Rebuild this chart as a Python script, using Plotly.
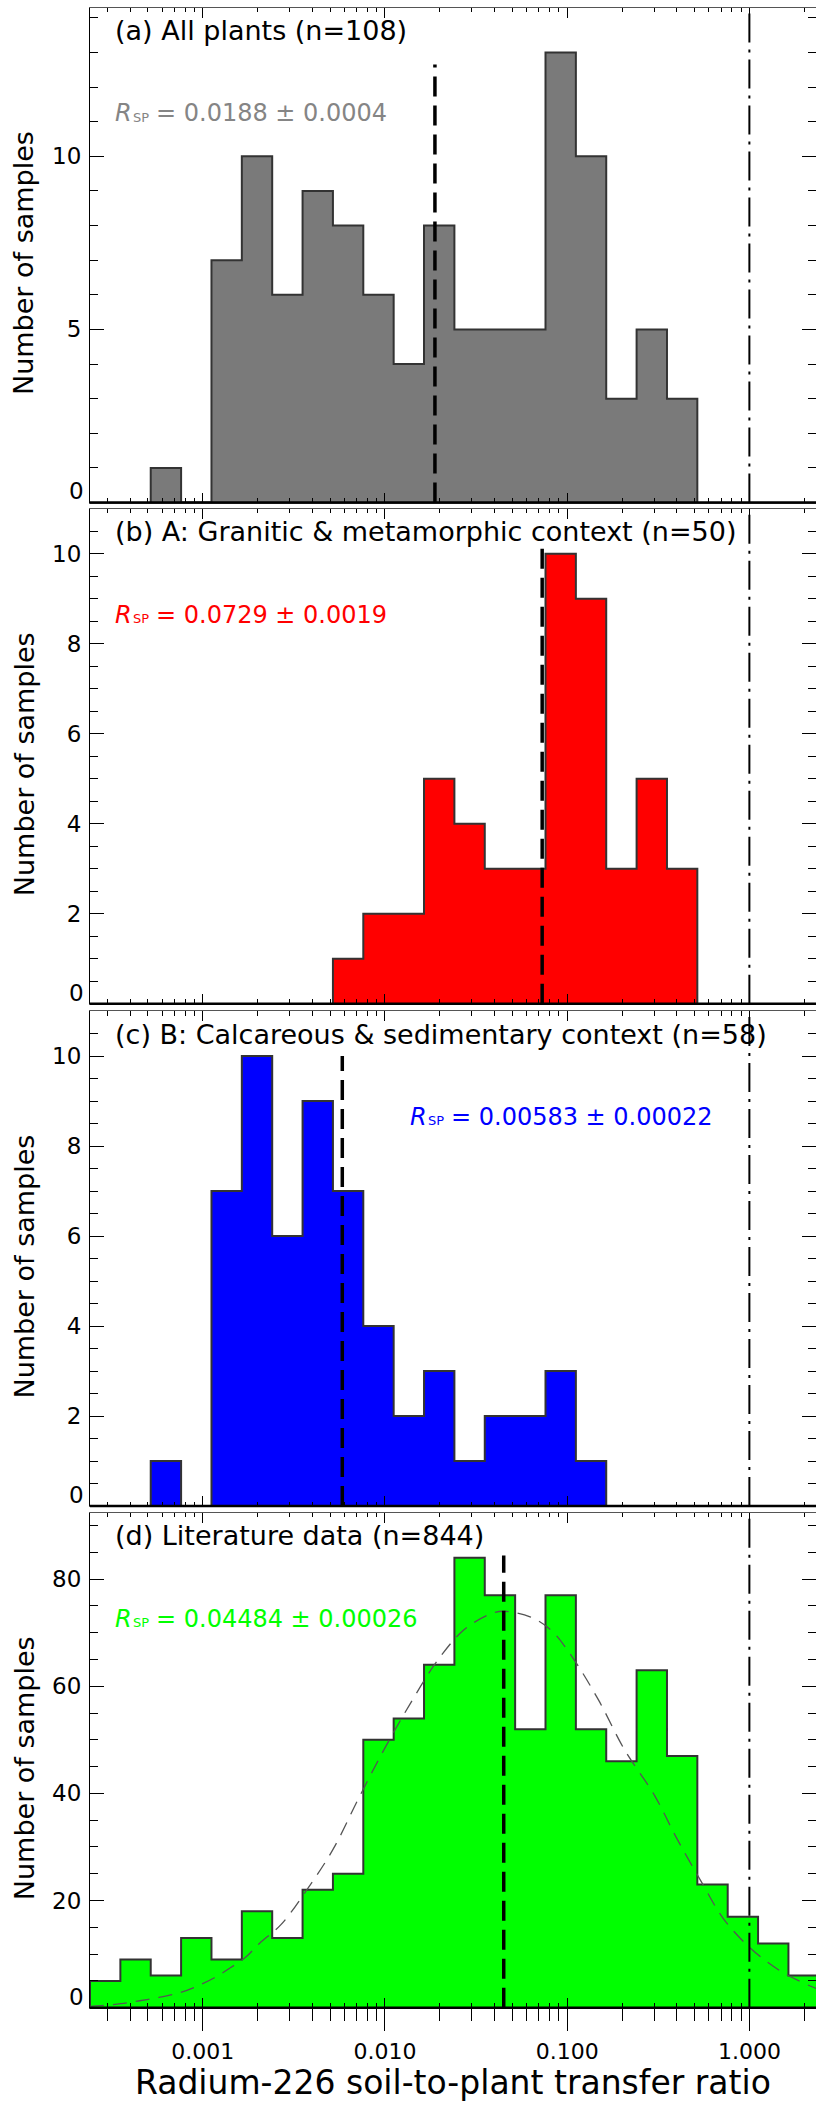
import plotly.graph_objects as go

# ---------------- data ----------------
BIN0_LOG = -3.619          # log10 of the first histogram bin edge
BIN_W_LOG = 1.0 / 6.0      # bin width in decades

# counts per bin, 24 bins starting at BIN0_LOG
counts_all = [0, 0, 1, 0, 7, 10, 6, 9, 8, 6, 4, 8, 5, 5, 5, 13, 10, 3, 5, 3, 0, 0, 0, 0]
counts_granitic = [0, 0, 0, 0, 0, 0, 0, 0, 1, 2, 2, 5, 4, 3, 3, 10, 9, 3, 5, 3, 0, 0, 0, 0]
counts_calcareous = [0, 0, 1, 0, 7, 10, 6, 9, 7, 4, 2, 3, 1, 2, 2, 3, 1, 0, 0, 0, 0, 0, 0, 0]
counts_literature = [5, 9, 6, 13, 9, 18, 13, 22, 25, 50, 54, 64, 84, 77, 52, 77, 52, 46, 63, 47, 23, 17, 12, 6]

mean_rsp = [0.0188, 0.0729, 0.00583, 0.04484]
mean_line_top = [12.65, 10.2, 10.0, 84.4]
rsp_strings = ["= 0.0188 ± 0.0004", "= 0.0729 ± 0.0019", "= 0.00583 ± 0.00022", "= 0.04484 ± 0.00026"]
panel_titles = ["(a) All plants (n=108)",
                "(b) A: Granitic & metamorphic context (n=50)",
                "(c) B: Calcareous & sedimentary context (n=58)",
                "(d) Literature data (n=844)"]
fill_colors = ["#7a7a7a", "#ff0000", "#0000ff", "#00ff00"]
text_colors = ["#858585", "#ff0000", "#0000ff", "#00ff00"]

y_max = [14.3, 11.0, 11.0, 92.4]
y_labeled = [[5, 10], [2, 4, 6, 8, 10], [2, 4, 6, 8, 10], [20, 40, 60, 80]]
y_minor = [list(range(0, 15)),
           [k * 0.5 for k in range(0, 23)],
           [k * 0.5 for k in range(0, 23)],
           list(range(0, 95, 5))]

# fitted log-normal curve in panel (d)
fit_log_x = [-3.619, -3.558, -3.45, -3.347, -3.247, -3.137, -3.046, -2.936, -2.853, -2.762,
             -2.689, -2.571, -2.429, -2.286, -2.143, -2.0, -1.857, -1.714, -1.571, -1.429,
             -1.349, -1.2, -1.086, -0.971, -0.829, -0.686, -0.52, -0.4, -0.257, -0.142,
             0.003, 0.168, 0.337, 0.366]
fit_counts = [0.25, 0.37, 0.75, 1.3, 1.87, 2.7, 3.8, 5.6, 7.35, 9.5,
              12.0, 15.5, 22.0, 29.5, 39.2, 48.5, 57.0, 64.7, 70.4, 73.4,
              74.0, 72.9, 70.4, 65.4, 57.5, 48.2, 39.6, 31.7, 23.1, 16.6,
              11.2, 6.9, 4.0, 3.6]

x_major = [0.001, 0.01, 0.1, 1.0]
x_major_text = ["0.001", "0.010", "0.100", "1.000"]
x_minor = [m * 10.0 ** e for e in range(-4, 1) for m in range(2, 10)]
reference_ratio = 1.0

# ---------------- layout geometry ----------------
W, H, L = 816, 2102, 90
X_RANGE = [BIN0_LOG, BIN0_LOG + (W - L) / 182.2]
PANEL_TOP = [7.5, 508.7, 1011.0, 1512.7]
PANEL_H = 495.0
FONT = "DejaVu Sans, Liberation Sans, sans-serif"


def ypaper(px):
    return 1.0 - px / H


def xpaper(px):
    return (px - L) / (W - L)


all_counts = [counts_all, counts_granitic, counts_calcareous, counts_literature]

fig = go.Figure()
annotations = []
shapes = []

for i in range(4):
    xs = "x" if i == 0 else f"x{i + 1}"
    ys = "y" if i == 0 else f"y{i + 1}"
    cnt = all_counts[i]
    nz = [k for k, c in enumerate(cnt) if c > 0]
    k0, k1 = nz[0], nz[-1]
    edges = [10 ** (BIN0_LOG + k * BIN_W_LOG) for k in range(k0, k1 + 2)]
    hx = [edges[0]] + edges[:-1] + [edges[-1]]
    hy = [0] + cnt[k0:k1 + 1] + [0]
    fig.add_trace(go.Scatter(x=hx, y=hy, xaxis=xs, yaxis=ys, mode="lines",
                             line=dict(shape="hv", color="#333333", width=2),
                             fill="tozeroy", fillcolor=fill_colors[i],
                             hoverinfo="skip", showlegend=False))
    if i == 3:
        fig.add_trace(go.Scatter(x=[10 ** v for v in fit_log_x], y=fit_counts,
                                 xaxis=xs, yaxis=ys, mode="lines",
                                 line=dict(color="#555555", width=1.3, dash="14px,9px",
                                           shape="spline"),
                                 hoverinfo="skip", showlegend=False))
    fig.add_trace(go.Scatter(x=[mean_rsp[i], mean_rsp[i]], y=[0, mean_line_top[i]],
                             xaxis=xs, yaxis=ys, mode="lines",
                             line=dict(color="black", width=3.5, dash="20px,9px"),
                             hoverinfo="skip", showlegend=False))
    fig.add_trace(go.Scatter(x=[reference_ratio, reference_ratio], y=[0, y_max[i]],
                             xaxis=xs, yaxis=ys, mode="lines",
                             line=dict(color="black", width=2, dash="29px,7px,3px,7px"),
                             hoverinfo="skip", showlegend=False))

    top = PANEL_TOP[i]
    dom = [ypaper(top + PANEL_H), ypaper(top)]
    xaxis = dict(type="log", range=X_RANGE, domain=[0, 1], anchor=ys,
                 showgrid=False, zeroline=False,
                 tickvals=x_major, ticktext=x_major_text,
                 tickfont=dict(size=22, color="black", family=FONT))
    if i < 3:
        xaxis.update(showline=True, linecolor="#555555", linewidth=1, mirror="ticks",
                     ticks="inside", ticklen=10, tickwidth=1, tickcolor="black",
                     showticklabels=False,
                     minor=dict(tickvals=x_minor, ticks="inside", ticklen=4.5,
                                tickwidth=1, tickcolor="black", showgrid=False))
    else:
        xaxis.update(showline=False, mirror=False,
                     ticks="outside", ticklen=22, tickwidth=1, tickcolor="black",
                     showticklabels=True, ticklabelstandoff=2,
                     minor=dict(tickvals=x_minor, ticks="outside", ticklen=12,
                                tickwidth=1, tickcolor="black", showgrid=False))
    fig.layout["xaxis" if i == 0 else f"xaxis{i + 1}"] = xaxis

    fig.layout["yaxis" if i == 0 else f"yaxis{i + 1}"] = dict(
        domain=dom, anchor=xs, range=[0, y_max[i]],
        showgrid=False, zeroline=False,
        showline=True, linecolor="black", linewidth=1, mirror="ticks",
        ticks="inside", ticklen=14, tickwidth=1, tickcolor="black",
        tickvals=y_labeled[i], ticktext=[str(v) for v in y_labeled[i]],
        ticklabelstandoff=3,
        tickfont=dict(size=23, color="black", family=FONT),
        minor=dict(tickvals=y_minor[i], ticks="inside", ticklen=8,
                   tickwidth=1, tickcolor="black", showgrid=False))

    # thick bottom axis line
    shapes.append(dict(type="line", xref=f"{xs} domain", yref=f"{ys} domain",
                       x0=0, x1=1, y0=0, y1=0, layer="above",
                       line=dict(color="black", width=2.5)))

    # "0" tick label sitting on the axis
    annotations.append(dict(text="0", xref="paper", x=0, xshift=-4, xanchor="right",
                            yref=ys, y=0, yanchor="bottom", yshift=-4, showarrow=False,
                            font=dict(size=23, color="black", family=FONT)))
    # panel title
    annotations.append(dict(text=panel_titles[i], xref="paper", x=xpaper(113),
                            xanchor="left", yref="paper", y=ypaper(top + 23),
                            yanchor="middle", showarrow=False,
                            font=dict(size=27, color="black", family=FONT)))
    # R_SP value: italic R, small "SP" subscript, then the value
    rx = 408 if i == 2 else 113
    annotations.append(dict(text="R", xref="paper", x=xpaper(rx), xanchor="left",
                            yref="paper", y=ypaper(top + 106), yanchor="middle",
                            showarrow=False,
                            font=dict(size=24, color=text_colors[i], family=FONT,
                                      style="italic")))
    annotations.append(dict(text="SP", xref="paper", x=xpaper(rx + 18), xanchor="left",
                            yref="paper", y=ypaper(top + 110), yanchor="middle",
                            showarrow=False,
                            font=dict(size=13, color=text_colors[i], family=FONT)))
    annotations.append(dict(text=rsp_strings[i], xref="paper", x=xpaper(rx + 41),
                            xanchor="left", yref="paper", y=ypaper(top + 106),
                            yanchor="middle", showarrow=False,
                            font=dict(size=24, color=text_colors[i], family=FONT)))
    # y-axis title
    annotations.append(dict(text="Number of samples", xref="paper", x=xpaper(24),
                            xanchor="center", yref="paper",
                            y=ypaper(top + PANEL_H / 2 + 8), yanchor="middle",
                            textangle=-90, showarrow=False,
                            font=dict(size=27, color="black", family=FONT)))

# overlay axis giving inside ticks (top and bottom) for panel (d)
fig.layout["xaxis5"] = dict(type="log", range=X_RANGE, overlaying="x4", anchor="y4",
                            showgrid=False, zeroline=False,
                            showline=True, linecolor="#555555", linewidth=1, mirror="ticks",
                            ticks="inside", ticklen=10, tickwidth=1, tickcolor="black",
                            tickvals=x_major, showticklabels=False,
                            minor=dict(tickvals=x_minor, ticks="inside", ticklen=4.5,
                                       tickwidth=1, tickcolor="black", showgrid=False))
fig.add_trace(go.Scatter(x=[0.001], y=[0], xaxis="x5", yaxis="y4", mode="markers",
                         marker=dict(opacity=0), hoverinfo="skip", showlegend=False))

annotations.append(dict(text="Radium-226 soil-to-plant transfer ratio", xref="paper",
                        x=xpaper(452.5), xanchor="center", yref="paper", y=ypaper(2082),
                        yanchor="middle", showarrow=False,
                        font=dict(size=33, color="black", family=FONT)))

fig.update_layout(template="none", width=W, height=H,
                  margin=dict(l=L, r=0, t=0, b=0, pad=0),
                  paper_bgcolor="white", plot_bgcolor="white",
                  font=dict(family=FONT, color="black"),
                  showlegend=False, annotations=annotations, shapes=shapes)

fig.write_html("out.html", config={"displayModeBar": False},
               post_script="document.body.style.margin='0px';document.body.style.overflow='hidden';")
